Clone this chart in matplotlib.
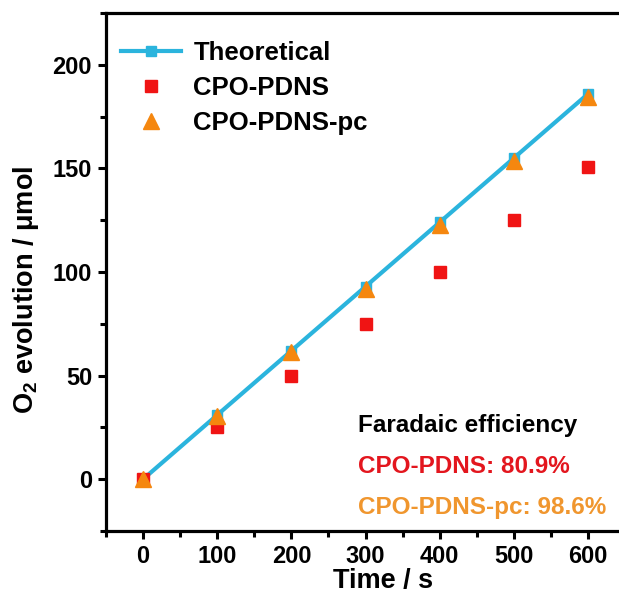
import numpy as np
import matplotlib
matplotlib.use('Agg')
import matplotlib.pyplot as plt
from matplotlib.ticker import MultipleLocator

plt.rcParams['font.family'] = ['Liberation Sans', 'DejaVu Sans']
plt.rcParams['font.weight'] = 'bold'
plt.rcParams['mathtext.fontset'] = 'custom'
plt.rcParams['mathtext.rm'] = 'Liberation Sans:bold'
plt.rcParams['mathtext.it'] = 'Liberation Sans:bold'

time = [0, 100, 200, 300, 400, 500, 600]
theoretical = [0, 31, 62, 93, 124, 155, 186]
cpo_pdns = [0, 25, 50, 75, 100, 125, 150.5]
cpo_pdns_pc = [0, 30.5, 61.5, 92, 122.5, 153.5, 184.5]

blue = '#2bb4dd'
red = '#f01414'
orange = '#f5870f'

fig = plt.figure(figsize=(6.19, 5.99), dpi=100)
ax = fig.add_axes([0.1712, 0.1135, 0.8387, 0.8648])

ax.plot(time, theoretical, '-s', color=blue, lw=3, ms=7.5, label='Theoretical')
ax.plot(time, cpo_pdns, 's', color=red, ms=8, ls='none', label='CPO-PDNS')
ax.plot(time, cpo_pdns_pc, '^', color=orange, ms=11, ls='none', label='CPO-PDNS-pc')

ax.set_xlim(-50, 650)
ax.set_ylim(-25, 225)
ax.xaxis.set_major_locator(MultipleLocator(100))
ax.xaxis.set_minor_locator(MultipleLocator(50))
ax.yaxis.set_major_locator(MultipleLocator(50))
ax.yaxis.set_minor_locator(MultipleLocator(25))
ax.tick_params(which='major', direction='out', length=6, width=2.2, labelsize=17, pad=4)
ax.tick_params(which='minor', direction='out', length=4, width=2.2)
for lab in ax.get_xticklabels() + ax.get_yticklabels():
    lab.set_fontweight('bold')

for s in ['left', 'bottom', 'top']:
    ax.spines[s].set_linewidth(2.3)
ax.spines['right'].set_visible(False)

ax.set_xlabel('Time / s', fontsize=19.5, fontweight='bold')
ax.set_ylabel(r'O$_2$ evolution / $\mu$mol', fontsize=19.5, fontweight='bold')
ax.xaxis.set_label_coords(0.534, -0.071)
ax.yaxis.set_label_coords(-0.125, 0.465)

ax.legend(loc='upper left', frameon=False, fontsize=18.5, handlelength=2.3,
          handletextpad=0.5, borderaxespad=0.0, labelspacing=0.42,
          bbox_to_anchor=(0.01, 0.965))

ax.text(0.4855, 0.203, 'Faradaic efficiency', transform=ax.transAxes, va='center',
        fontsize=17.5, fontweight='bold', color='black')
ax.text(0.4855, 0.125, 'CPO-PDNS: 80.9%', transform=ax.transAxes, va='center',
        fontsize=17.5, fontweight='bold', color='#e3161e')
ax.text(0.4855, 0.046, 'CPO-PDNS-pc: 98.6%', transform=ax.transAxes, va='center',
        fontsize=17.5, fontweight='bold', color='#f0962e')

fig.savefig('out.png', dpi=100)
